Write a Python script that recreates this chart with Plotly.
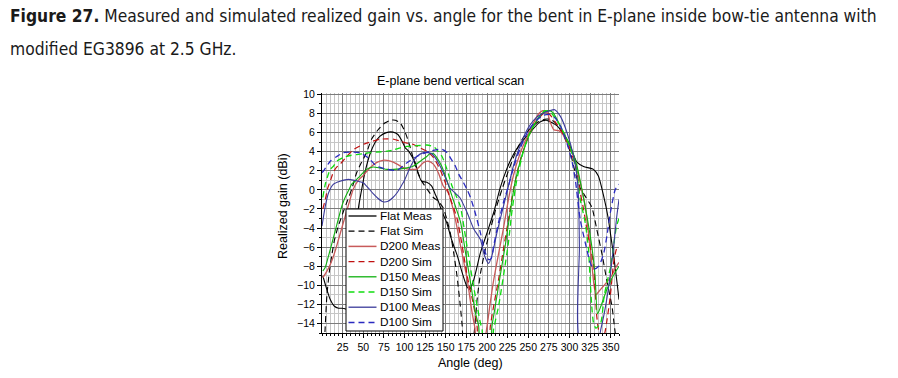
import plotly.graph_objects as go

# ---------------- data ----------------
FLAT_MEAS_ANG = [1,5,10,15,20,25,30,35,40,44,48,52,58,64,70,78,86,92,97,101,105,109,113,117,121,127,133,137,141,145,151,157,164,170,176,179,184,192,200,208,216,224,232,240,252,264,272,285,297,309,317,329,335,341,347,350,354,358,360]
FLAT_MEAS = [-9.0,-10.2,-11.5,-12.2,-12.4,-12.4,-12.5,-11.5,-7.0,-2.0,0.0,1.8,3.7,4.9,5.6,6.0,6.05,5.8,5.1,4.4,4.05,3.5,2.85,1.6,0.9,0.8,0.4,-0.4,-1.2,-2.2,-3.4,-5.2,-6.9,-8.7,-10.2,-10.4,-9.4,-6.6,-4.5,-2.4,0.2,2.2,3.7,4.8,6.0,7.1,7.3,6.7,5.3,2.9,2.45,2.15,1.45,-0.5,-3.0,-4.8,-7.2,-10.0,-11.5]

FLAT_SIM_ANG = [3,6,9,12,15,19,23,27,31,36,42,48,54,60,68,76,83,89,95,101,105,111,115,121,128,135,141,147,151,155.5,160,163.6,167.7,170,172,182,185,188,192,198,204,210,218,226,234,242,250,260,270,276,282,290,300,307,313,320,327,333,340,345,351.5,354,357]
FLAT_SIM = [-16,-11,-8.5,-6.8,-5.3,-4.0,-3.0,-2.0,-1.1,0.05,1.8,2.9,3.9,5.3,6.3,7.0,7.3,7.3,7.0,6.0,5.0,3.2,2.1,0.9,0.0,-0.8,-1.2,-1.9,-3.0,-4.5,-6.8,-9.0,-12.2,-14.3,-16,-16,-14.5,-11.5,-8.8,-6.2,-4.2,-2.2,0.0,2.0,3.8,5.2,6.2,7.0,7.4,7.4,7.1,6.2,4.2,1.8,0.2,-0.8,-1.8,-4.1,-7.0,-9.4,-12.2,-14.0,-16]

D200_MEAS_ANG = [1,4,8,12,16,20,24,28,32,38,44,50,58,66,74,83,91,99,107,115,123,129,135,141,147,153,160,168,176,182,185,188,196,200,204,208,214,220,226,232,240,250,262,268,273,277,281,287,292,297,305,313,319,323,327,329,332,336,341,346,351,355,360]
D200_MEAS = [-9.2,-8.8,-8.2,-7.4,-6.4,-5.2,-4.0,-2.8,-1.6,0.1,1.0,1.5,2.3,2.85,3.1,3.0,2.7,2.3,2.15,2.2,2.85,3.0,2.7,1.8,0.4,-0.3,-2.4,-5.9,-9.4,-12.9,-14.3,-16,-16,-14.3,-11.8,-9.5,-6.7,-4.0,-1.0,1.5,3.8,5.8,7.9,8.3,8.1,7.0,6.3,6.2,5.8,5.0,3.5,0.75,-1.7,-4.5,-7.6,-9.5,-11.0,-10.6,-10.1,-9.6,-9.0,-8.3,-7.6]

D200_SIM_ANG = [1,4,7,10,14,18,22,26,30,38,46,54,62,70,79,87,95,103,111,119,127,135,143,149.5,155,160,164,170,176,184,188,190,202,204,208,214,220,226,232,240,250,260,270,276,282,290,300,308,313,317,321,325,329,331,333,335,338,342,345,349.5,353.5,357,360]
D200_SIM = [-2.0,-1.0,0.2,0.9,1.9,2.4,2.7,3.1,3.5,4.2,4.6,4.9,5.1,5.3,5.35,5.3,5.1,4.9,4.75,4.4,4.05,3.4,2.15,0.75,-0.8,-2.0,-3.1,-5.9,-9.0,-12.2,-14.3,-16,-16,-14.3,-12.2,-9.4,-6.2,-3.1,0.0,3.0,5.5,7.2,8.1,7.9,7.2,6.2,4.5,2.2,-0.3,-2.0,-4.1,-5.9,-7.6,-10.4,-13.2,-14.6,-15.5,-15.2,-13.9,-11.1,-7.6,-6.2,-5.9]

D150_MEAS_ANG = [1,4,8,12,16,20,24,28,32,36,40,46,54,62,70,79,87,95,103,111,119,127,131,135,139,145,151,157,162,168,174,180,186,190,192,204,206,210,216,222,228,234,242,250,260,268,275,280,289,295,301,309,315,321,327,331,334,338,345,353,360]
D150_MEAS = [-8.5,-8.1,-6.9,-5.6,-4.3,-3.0,-1.7,-0.8,-0.1,0.6,0.9,1.45,2.15,2.4,2.3,2.15,2.15,2.2,2.3,2.5,3.0,3.5,3.8,3.8,3.4,2.5,1.1,-0.5,-1.8,-3.4,-6.6,-9.7,-12.9,-14.3,-16,-16,-14.3,-12.2,-9.0,-5.9,-2.4,0.8,3.5,5.5,7.2,8.1,8.3,8.1,6.7,5.6,4.6,2.5,0.05,-2.7,-5.9,-9.0,-13.0,-12.2,-10.5,-9.0,-8.0]

D150_SIM_ANG = [1,4,10,14,18,26,34,42,50,58,66,79,87,95,103,111,119,127,133,137,141,145.5,151.5,157.6,162,167.6,173.7,179.6,185.8,191.9,194,196,206,208,214,220,226,230,236,244,252,260,270,276,282,290,300,308,313,319,323,325,327,329,332,338,342,346,350,354,357,360]
D150_SIM = [-0.8,0.6,2.15,2.5,3.0,3.4,3.6,3.7,3.8,3.9,3.95,4.05,4.2,4.4,4.55,4.6,4.65,4.7,4.6,4.4,4.0,3.5,2.15,0.4,-0.5,-1.7,-4.8,-8.0,-11.1,-13.9,-14.6,-16,-16,-14.6,-12.2,-9.0,-5.5,-2.4,1.0,4.0,6.0,7.3,8.3,8.2,7.6,6.5,4.6,2.3,-1.0,-3.4,-6.2,-9.4,-12.2,-13.9,-14.5,-13.9,-11.1,-9.5,-8.0,-5.5,-3.8,-3.0]

D100_MEAS_ANG = [0,4,8,14,22,32,44,50,56,62,68,74,80,86,91,96,100,107,115,123,129,134,140,147,155,161,167,176,184,192,197,202,206,212,220,226,232,240,250,260,270,276,282,289,297,305,309,311,312,313,334,338,342,346,350,354,357,360]
D100_MEAS = [-3.8,-1.7,-0.3,0.6,0.9,1.1,0.9,0.75,0.2,-0.4,-0.9,-1.25,-1.2,-0.8,-0.3,0.4,1.0,2.4,3.5,3.9,3.9,3.7,3.0,1.8,0.2,-0.3,-0.8,-2.4,-4.1,-5.2,-6.9,-7.7,-6.9,-4.5,-1.7,0.4,2.5,4.6,6.5,7.6,8.1,8.3,8.4,7.7,6.0,3.5,1.45,-1.0,-6.0,-16,-16,-14.6,-13.0,-11.0,-8.5,-5.5,-3.0,-1.0]

D100_SIM_ANG = [0,2,10,18,26,34,46,58,66,79,91,103,115,123,131,138,145.5,151.5,156,161.6,166,171.6,176,180,186,192,198,202,205,208,214,220,226,232,240,250,260,268,275,282,290,298,303,307,313,319,325,329.5,335.5,341.6,345.4,349.5,355.5,360]
D100_SIM = [1.8,2.0,3.0,3.5,3.9,3.95,3.9,3.2,2.5,2.15,2.05,2.85,3.5,3.8,4.05,4.2,4.25,3.9,3.3,2.5,1.6,0.75,0.0,-0.8,-2.5,-4.5,-6.6,-7.3,-7.2,-5.9,-3.4,-1.3,0.4,2.3,4.3,6.2,7.3,7.8,7.9,7.6,6.5,4.6,3.0,1.1,-3.1,-5.5,-7.6,-8.3,-8.0,-6.6,-4.8,-2.4,0.05,0.6]

SERIES_NAMES = ["Flat Meas", "Flat Sim", "D200 Meas", "D200 Sim",
                "D150 Meas", "D150 Sim", "D100 Meas", "D100 Sim"]
X_TICKS = list(range(25, 351, 25))
Y_TICKS = list(range(-14, 11, 2))

CAPTION_1 = "<b>Figure 27.</b> Measured and simulated realized gain vs. angle for the bent in E-plane inside bow-tie antenna with"
CAPTION_2 = "modified EG3896 at 2.5 GHz."
TITLE = "E-plane bend vertical scan"
X_TITLE = "Angle (deg)"
Y_TITLE = "Realized gain (dBi)"

# ---------------- styles ----------------
DASH = "6px,4px"
styles = [
    ("#000000", "solid", 1.1),
    ("#000000", DASH, 1.1),
    ("#c85a5a", "solid", 1.3),
    ("#c01010", DASH, 1.2),
    ("#10b010", "solid", 1.1),
    ("#10dd10", DASH, 1.3),
    ("#3a3a9a", "solid", 1.1),
    ("#2a2ac0", DASH, 1.3),
]
data = [
    (FLAT_MEAS_ANG, FLAT_MEAS), (FLAT_SIM_ANG, FLAT_SIM),
    (D200_MEAS_ANG, D200_MEAS), (D200_SIM_ANG, D200_SIM),
    (D150_MEAS_ANG, D150_MEAS), (D150_SIM_ANG, D150_SIM),
    (D100_MEAS_ANG, D100_MEAS), (D100_SIM_ANG, D100_SIM),
]

W, H = 898, 378
L, R, T, B = 322, 619, 93, 333


def px(x):
    return (x - L) / (R - L)


def py(y):
    return (B - y) / (B - T)


fig = go.Figure()
for (xs, ys), name, (col, dash, lw) in zip(data, SERIES_NAMES, styles):
    fig.add_trace(go.Scatter(
        x=xs, y=ys, mode="lines", name=name, showlegend=False,
        line=dict(color=col, width=lw, dash=dash, shape="spline", smoothing=0.6),
    ))

AX_FONT = "Liberation Sans, Arial, sans-serif"

shapes = []
annotations = []

# legend box (drawn on top of the curves)
LX0, LX1, LY0, LY1 = 346, 443, 209, 331
shapes.append(dict(type="rect", xref="paper", yref="paper",
                   x0=px(LX0), x1=px(LX1), y0=py(LY1), y1=py(LY0),
                   fillcolor="white", line=dict(color="black", width=1),
                   layer="above"))
for i, (name, (col, dash, lw)) in enumerate(zip(SERIES_NAMES, styles)):
    yc = 216 + 15.2 * i
    shapes.append(dict(type="line", xref="paper", yref="paper",
                       x0=px(348.5), x1=px(376.5), y0=py(yc), y1=py(yc),
                       line=dict(color=col, width=lw + 0.2, dash=dash), layer="above"))
    annotations.append(dict(text=name, xref="paper", yref="paper",
                            x=px(378), y=py(yc), xanchor="left", yanchor="middle",
                            showarrow=False, font=dict(family=AX_FONT, size=11.8, color="black")))

CAP_FONT = "Liberation Sans Narrow, DejaVu Sans Condensed, Roboto Condensed, Liberation Sans, sans-serif"
annotations += [
    dict(text=CAPTION_1, xref="paper", yref="paper", x=px(8), y=py(16),
         xanchor="left", yanchor="middle", showarrow=False,
         font=dict(family=CAP_FONT, size=17.3, color="#1a1a1a")),
    dict(text=CAPTION_2, xref="paper", yref="paper", x=px(8), y=py(49),
         xanchor="left", yanchor="middle", showarrow=False,
         font=dict(family=CAP_FONT, size=17.3, color="#1a1a1a")),
    dict(text=TITLE, xref="paper", yref="paper", x=px(450), y=py(81),
         xanchor="center", yanchor="middle", showarrow=False,
         font=dict(family=AX_FONT, size=12.5, color="black")),
    dict(text=X_TITLE, xref="paper", yref="paper", x=px(470), y=py(363),
         xanchor="center", yanchor="middle", showarrow=False,
         font=dict(family=AX_FONT, size=12.5, color="black")),
    dict(text=Y_TITLE, xref="paper", yref="paper", x=px(283), y=py(206),
         xanchor="center", yanchor="middle", showarrow=False, textangle=-90,
         font=dict(family=AX_FONT, size=12.5, color="black")),
]

MAJOR_GRID = "#7c7c7c"
MINOR_GRID = "#c6c6c6"

fig.update_layout(
    width=W, height=H,
    margin=dict(l=L, r=W - R, t=T, b=H - B, pad=0),
    paper_bgcolor="white", plot_bgcolor="white",
    showlegend=False,
    shapes=shapes, annotations=annotations,
    xaxis=dict(range=[0, 360], tickmode="array", tickvals=X_TICKS,
               ticks="outside", ticklen=4, tickcolor="black",
               showline=True, linecolor="black", linewidth=1,
               showgrid=True, gridcolor=MAJOR_GRID, gridwidth=1, zeroline=False,
               tickfont=dict(family=AX_FONT, size=10.5, color="black"),
               minor=dict(dtick=5, tick0=0, ticks="outside", ticklen=2,
                          tickcolor="black", showgrid=True, gridcolor=MINOR_GRID)),
    yaxis=dict(range=[-15, 10.15], tickmode="array", tickvals=Y_TICKS,
               ticks="outside", ticklen=4, tickcolor="black",
               showline=True, linecolor="black", linewidth=1,
               showgrid=True, gridcolor=MAJOR_GRID, gridwidth=1, zeroline=False,
               tickfont=dict(family=AX_FONT, size=10.5, color="black"),
               minor=dict(dtick=1, tick0=0, ticks="outside", ticklen=2,
                          tickcolor="black", showgrid=True, gridcolor=MINOR_GRID)),
)

fig.write_html("out.html",
               config={"displayModeBar": False},
               post_script="document.body.style.margin='0px';document.body.style.overflow='hidden';")
